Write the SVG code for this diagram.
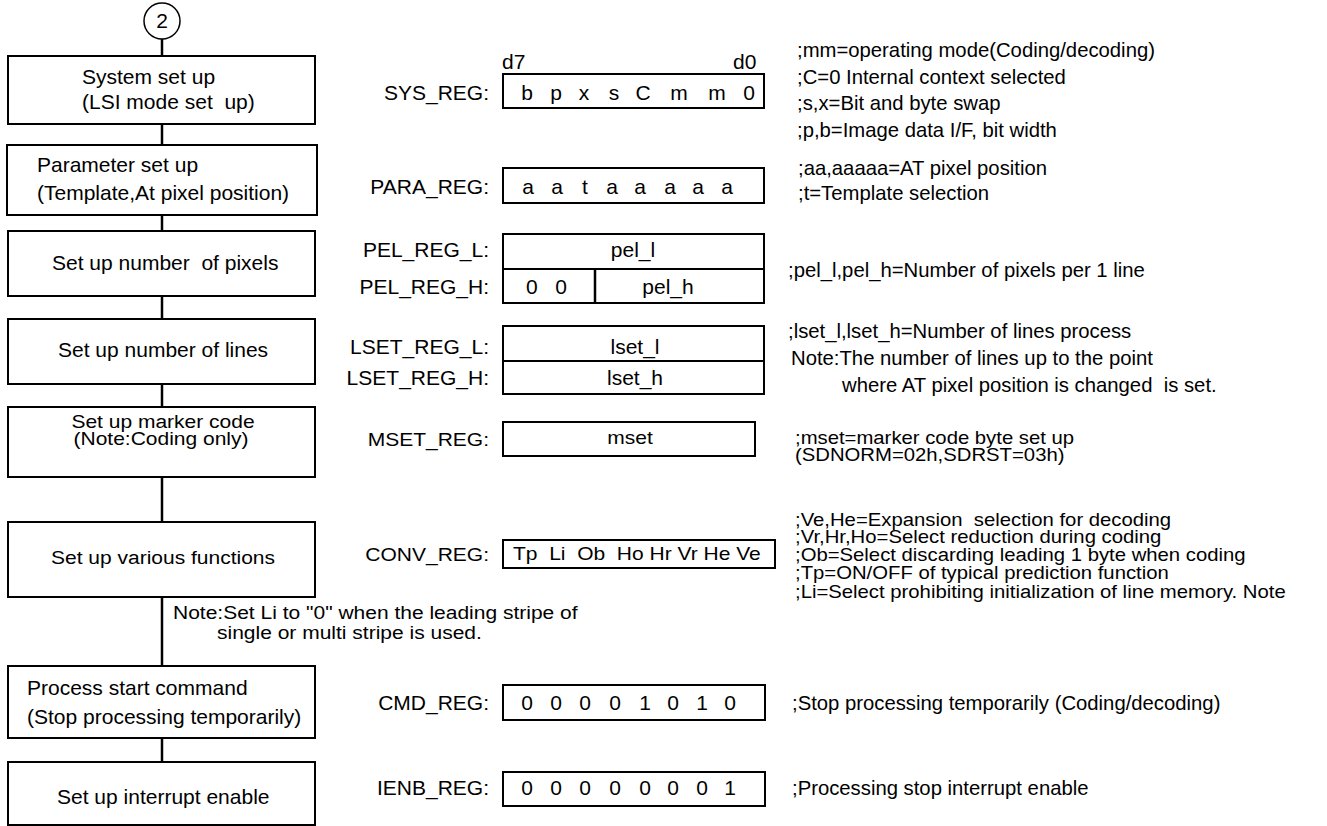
<svg xmlns="http://www.w3.org/2000/svg" width="1327" height="826" viewBox="0 0 1327 826">
  <style>
    text { font-family: "Liberation Sans", Arial, sans-serif; fill: #000; }
    .t { font-size: 21px; }
    .c { font-size: 20.3px; }
    .mid { text-anchor: middle; }
    .lbl { font-size: 21px; text-anchor: end; }
    .box { fill: #fff; stroke: #000; stroke-width: 2; }
    .reg { fill: #fff; stroke: #000; stroke-width: 2; }
    .wire { stroke: #000; stroke-width: 2.5; fill: none; }
  </style>
  <rect width="1327" height="826" fill="#fff"/>

  <!-- flow connectors -->
  <g id="connectors">
    <line class="wire" x1="162" y1="39" x2="162" y2="56"/>
    <line class="wire" x1="162" y1="124" x2="162" y2="145"/>
    <line class="wire" x1="162" y1="215" x2="162" y2="231"/>
    <line class="wire" x1="162" y1="296" x2="162" y2="319"/>
    <line class="wire" x1="162" y1="384" x2="162" y2="407"/>
    <line class="wire" x1="162" y1="477" x2="162" y2="522"/>
    <line class="wire" x1="162" y1="597" x2="162" y2="666"/>
    <line class="wire" x1="162" y1="738" x2="162" y2="762"/>
  </g>

  <!-- off-page connector -->
  <g id="connector-2">
    <circle cx="162" cy="21" r="18" fill="#fff" stroke="#000" stroke-width="1.5"/>
    <text class="t mid" x="162" y="28">2</text>
  </g>

  <!-- flow steps -->
  <g id="step-system">
    <rect class="box" x="8" y="56" width="307" height="68"/>
    <text class="t" x="82" y="84">System set up</text>
    <text class="t" x="82" y="109" xml:space="preserve">(LSI mode set  up)</text>
  </g>
  <g id="step-parameter">
    <rect class="box" x="7" y="145" width="310" height="70"/>
    <text class="t" x="37" y="172">Parameter set up</text>
    <text class="t" x="37" y="200">(Template,At pixel position)</text>
  </g>
  <g id="step-pixels">
    <rect class="box" x="8" y="231" width="307" height="65"/>
    <text class="t" x="52" y="270" xml:space="preserve">Set up number  of pixels</text>
  </g>
  <g id="step-lines">
    <rect class="box" x="8" y="319" width="307" height="65"/>
    <text class="t" x="58" y="357">Set up number of lines</text>
  </g>
  <!-- the middle rows use tighter, vertically condensed lettering -->
  <g id="step-marker">
    <rect class="box" x="8" y="407" width="307" height="70"/>
    <text class="t mid" x="163" y="428" transform="matrix(1 0 0 0.87 0 55.64)">Set up marker code</text>
    <text class="t mid" x="161" y="445" transform="matrix(1 0 0 0.87 0 57.85)">(Note:Coding only)</text>
  </g>
  <g id="step-functions">
    <rect class="box" x="8" y="522" width="307" height="75"/>
    <text class="t mid" x="163" y="564" transform="matrix(1 0 0 0.87 0 73.32)">Set up various functions</text>
  </g>
  <g id="step-start">
    <rect class="box" x="8" y="666" width="307" height="72"/>
    <text class="t" x="27" y="695">Process start command</text>
    <text class="t" x="27" y="724">(Stop processing temporarily)</text>
  </g>
  <g id="step-interrupt">
    <rect class="box" x="8" y="762" width="307" height="63"/>
    <text class="t" x="57" y="804">Set up interrupt enable</text>
  </g>

  <!-- register layouts -->
  <g id="reg-sys">
    <text class="t" x="502" y="69">d7</text>
    <text class="t" x="733" y="69">d0</text>
    <text class="lbl" x="489" y="100">SYS_REG:</text>
    <rect class="reg" x="503" y="74" width="261" height="34"/>
    <g class="t mid">
      <text x="527" y="100">b</text><text x="556" y="100">p</text><text x="584" y="100">x</text><text x="614" y="100">s</text>
      <text x="643" y="100">C</text><text x="679" y="100">m</text><text x="717" y="100">m</text><text x="749" y="100">0</text>
    </g>
  </g>
  <g id="reg-para">
    <text class="lbl" x="489" y="194">PARA_REG:</text>
    <rect class="reg" x="503" y="168" width="261" height="35"/>
    <g class="t mid">
      <text x="528" y="194">a</text><text x="557" y="194">a</text><text x="585" y="194">t</text><text x="612" y="194">a</text>
      <text x="640" y="194">a</text><text x="670" y="194">a</text><text x="698" y="194">a</text><text x="727" y="194">a</text>
    </g>
  </g>
  <g id="reg-pel">
    <text class="lbl" x="489" y="257">PEL_REG_L:</text>
    <text class="lbl" x="489" y="294">PEL_REG_H:</text>
    <rect class="reg" x="503" y="234" width="261" height="69"/>
    <line x1="503" y1="269" x2="764" y2="269" stroke="#000" stroke-width="2"/>
    <line x1="595" y1="269" x2="595" y2="303" stroke="#000" stroke-width="2.5"/>
    <text class="t mid" x="633" y="257">pel_l</text>
    <text class="t" x="526" y="294" xml:space="preserve">0   0</text>
    <text class="t mid" x="668" y="294">pel_h</text>
  </g>
  <g id="reg-lset">
    <text class="lbl" x="489" y="354">LSET_REG_L:</text>
    <text class="lbl" x="489" y="385">LSET_REG_H:</text>
    <rect class="reg" x="503" y="326" width="261" height="68"/>
    <line x1="503" y1="361" x2="764" y2="361" stroke="#000" stroke-width="2"/>
    <text class="t mid" x="635" y="354">lset_l</text>
    <text class="t mid" x="635" y="385">lset_h</text>
  </g>
  <g id="reg-mset">
    <text class="lbl" x="489" y="446" transform="matrix(1 0 0 0.87 0 57.98)">MSET_REG:</text>
    <rect class="reg" x="503" y="422" width="252" height="34"/>
    <text class="t mid" x="630" y="444" transform="matrix(1 0 0 0.87 0 57.72)">mset</text>
  </g>
  <g id="reg-conv">
    <text class="lbl" x="489" y="561" transform="matrix(1 0 0 0.87 0 72.93)">CONV_REG:</text>
    <rect class="reg" x="503" y="540" width="272" height="28"/>
    <text class="t" x="513" y="560" transform="matrix(1 0 0 0.87 0 72.8)" xml:space="preserve">Tp  Li  Ob  Ho Hr Vr He Ve</text>
  </g>
  <g id="reg-cmd">
    <text class="lbl" x="489" y="710">CMD_REG:</text>
    <rect class="reg" x="503" y="685" width="262" height="35"/>
    <g class="t mid">
      <text x="527" y="710">0</text><text x="556" y="710">0</text><text x="585" y="710">0</text><text x="615" y="710">0</text>
      <text x="645" y="710">1</text><text x="673" y="710">0</text><text x="702" y="710">1</text><text x="730" y="710">0</text>
    </g>
  </g>
  <g id="reg-ienb">
    <text class="lbl" x="489" y="795">IENB_REG:</text>
    <rect class="reg" x="503" y="772" width="262" height="34"/>
    <g class="t mid">
      <text x="527" y="795">0</text><text x="556" y="795">0</text><text x="585" y="795">0</text><text x="615" y="795">0</text>
      <text x="645" y="795">0</text><text x="673" y="795">0</text><text x="702" y="795">0</text><text x="730" y="795">1</text>
    </g>
  </g>

  <!-- bit descriptions -->
  <g id="notes" class="c">
    <text x="797" y="57">;mm=operating mode(Coding/decoding)</text>
    <text x="797" y="84">;C=0 Internal context selected</text>
    <text x="797" y="110">;s,x=Bit and byte swap</text>
    <text x="797" y="137">;p,b=Image data I/F, bit width</text>
    <text x="798" y="175">;aa,aaaaa=AT pixel position</text>
    <text x="798" y="200">;t=Template selection</text>
    <text x="788" y="277">;pel_l,pel_h=Number of pixels per 1 line</text>
    <text x="788" y="338">;lset_l,lset_h=Number of lines process</text>
    <text x="791" y="365">Note:The number of lines up to the point</text>
    <text x="842" y="392" xml:space="preserve">where AT pixel position is changed  is set.</text>
    <text x="795" y="444" transform="matrix(1 0 0 0.87 0 57.72)">;mset=marker code byte set up</text>
    <text x="795" y="461" transform="matrix(1 0 0 0.87 0 59.93)">(SDNORM=02h,SDRST=03h)</text>
    <text x="795" y="526" transform="matrix(1 0 0 0.87 0 68.38)" xml:space="preserve">;Ve,He=Expansion  selection for decoding</text>
    <text x="795" y="543" transform="matrix(1 0 0 0.87 0 70.59)">;Vr,Hr,Ho=Select reduction during coding</text>
    <text x="795" y="561" transform="matrix(1 0 0 0.87 0 72.93)">;Ob=Select discarding leading 1 byte when coding</text>
    <text x="795" y="579" transform="matrix(1 0 0 0.87 0 75.27)">;Tp=ON/OFF of typical prediction function</text>
    <text x="795" y="598" transform="matrix(1 0 0 0.87 0 77.74)">;Li=Select prohibiting initialization of line memory. Note</text>
    <text x="792" y="710">;Stop processing temporarily (Coding/decoding)</text>
    <text x="792" y="795">;Processing stop interrupt enable</text>
  </g>
  <g id="li-note" class="t">
    <text x="173" y="619" transform="matrix(1 0 0 0.9 0 61.9)">Note:Set Li to "0" when the leading stripe of</text>
    <text x="217" y="639" transform="matrix(1 0 0 0.9 0 63.9)">single or multi stripe is used.</text>
  </g>
</svg>
